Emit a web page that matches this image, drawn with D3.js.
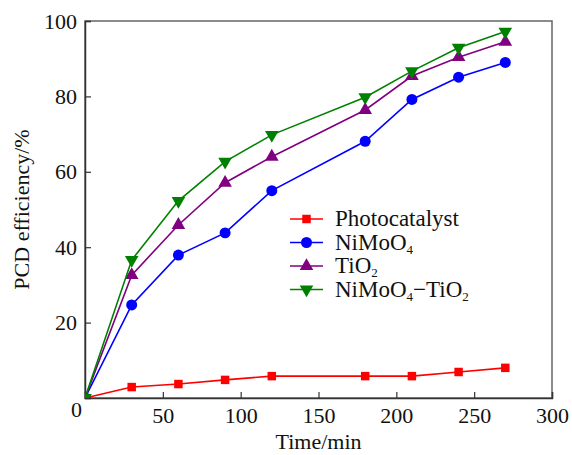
<!DOCTYPE html>
<html>
<head>
<meta charset="utf-8">
<script src="https://cdn.jsdelivr.net/npm/d3@7"></script>
<style>
  body { margin: 0; background: #fff; }
  svg text { font-family: "Liberation Serif", "Times New Roman", serif; fill: #111; }
</style>
</head>
<body>
<div id="chart"></div>
<script>
// data
const times = [0, 30, 60, 90, 120, 180, 210, 240, 270];
const photocatalyst = [0, 2.9, 3.7, 4.8, 5.8, 5.8, 5.8, 6.9, 8.0];
const nimoo4 = [0, 24.7, 37.9, 43.8, 55, 68.1, 79.2, 85.1, 89.0];
const tio2 = [0, 32.6, 45.9, 57.1, 64, 76.4, 85.4, 90.4, 94.5];
const composite = [0, 36.6, 52.3, 62.7, 69.8, 79.8, 86.7, 92.9, 97.2];
const xTicks = [50, 100, 150, 200, 250, 300];
const yTicks = [20, 40, 60, 80, 100];

const series = [
    { name: 'Photocatalyst', values: photocatalyst, color: '#ff0000', shape: 'square' },
    { name: 'NiMoO4', values: nimoo4, color: '#0000ff', shape: 'circle' },
    { name: 'TiO2', values: tio2, color: '#800080', shape: 'up' },
    { name: 'NiMoO4-TiO2', values: composite, color: '#008000', shape: 'down' }
];

const width = 572, height = 455;
const margin = { top: 21, right: 20, bottom: 57, left: 85 };
const innerW = 552 - margin.left;
const innerH = 398 - margin.top;

const svg = d3.select('#chart').append('svg')
    .attr('width', width)
    .attr('height', height);

svg.append('defs').append('clipPath').attr('id', 'plot-clip')
    .append('rect').attr('width', innerW).attr('height', innerH);

const g = svg.append('g')
    .attr('transform', `translate(${margin.left},${margin.top})`);

const x = d3.scaleLinear().domain([0, 300]).range([0, innerW]);
const y = d3.scaleLinear().domain([0, 100]).range([innerH, 0]);

// frame
g.append('rect')
    .attr('width', innerW).attr('height', innerH)
    .attr('fill', 'none').attr('stroke', '#666').attr('stroke-width', 1.5);

// axes, ticks point inward
const xAxis = g.append('g')
    .attr('transform', `translate(0,${innerH})`)
    .call(d3.axisBottom(x).tickValues(xTicks).tickSize(-6).tickPadding(9));
const yAxis = g.append('g')
    .call(d3.axisLeft(y).tickValues(yTicks).tickSize(-6).tickPadding(8));

[xAxis, yAxis].forEach(a => {
    a.select('.domain').attr('stroke', '#333').attr('stroke-width', 1.5);
    a.selectAll('.tick line').attr('stroke', '#333').attr('stroke-width', 1.2);
    a.selectAll('.tick text').attr('font-size', 22).attr('fill', '#111');
});

// shared zero label at the corner
g.append('text')
    .attr('x', x(0) - 3)
    .attr('y', y(0) + 19)
    .attr('text-anchor', 'end')
    .attr('font-size', 22)
    .text('0');

// axis titles
svg.append('text')
    .attr('x', margin.left + innerW / 2)
    .attr('y', 449)
    .attr('text-anchor', 'middle')
    .attr('font-size', 22)
    .text('Time/min');

svg.append('text')
    .attr('transform', `translate(29,${margin.top + innerH / 2}) rotate(-90)`)
    .attr('text-anchor', 'middle')
    .attr('font-size', 22)
    .text('PCD efficiency/%');

const symbolFor = shape => {
    if (shape === 'square') return d3.symbol().type(d3.symbolSquare).size(72);
    if (shape === 'circle') return d3.symbol().type(d3.symbolCircle).size(95);
    return d3.symbol().type(d3.symbolTriangle).size(80);
};

const line = d3.line()
    .x((d, i) => x(times[i]))
    .y(d => y(d));

const marks = g.append('g').attr('clip-path', 'url(#plot-clip)');

series.forEach(s => {
    marks.append('path')
        .datum(s.values)
        .attr('fill', 'none')
        .attr('stroke', s.color)
        .attr('stroke-width', 1.6)
        .attr('d', line);

    marks.selectAll(null)
        .data(s.values)
        .enter().append('path')
        .attr('d', symbolFor(s.shape))
        .attr('transform', (d, i) => `translate(${x(times[i])},${y(d)})` + (s.shape === 'down' ? ' rotate(180)' : ''))
        .attr('fill', s.color);
});

// legend
const legend = svg.append('g').attr('transform', 'translate(290,219)');
series.forEach((s, i) => {
    const row = legend.append('g').attr('transform', `translate(0,${i * 23.5})`);
    row.append('line')
        .attr('x1', 0).attr('x2', 33)
        .attr('stroke', s.color).attr('stroke-width', 1.6);
    row.append('path')
        .attr('d', symbolFor(s.shape))
        .attr('transform', 'translate(16.5,0)' + (s.shape === 'down' ? ' rotate(180)' : ''))
        .attr('fill', s.color);
    const t = row.append('text')
        .attr('x', 45).attr('y', 7)
        .attr('font-size', 23);
    if (s.name === 'Photocatalyst') {
        t.text('Photocatalyst');
    } else if (s.name === 'NiMoO4') {
        t.append('tspan').text('NiMoO');
        t.append('tspan').attr('font-size', 13).attr('dy', 4).text('4');
    } else if (s.name === 'TiO2') {
        t.append('tspan').text('TiO');
        t.append('tspan').attr('font-size', 13).attr('dy', 4).text('2');
    } else {
        t.append('tspan').text('NiMoO');
        t.append('tspan').attr('font-size', 13).attr('dy', 4).text('4');
        t.append('tspan').attr('dy', -4).text('\u2212TiO');
        t.append('tspan').attr('font-size', 13).attr('dy', 4).text('2');
    }
});
</script>
</body>
</html>
